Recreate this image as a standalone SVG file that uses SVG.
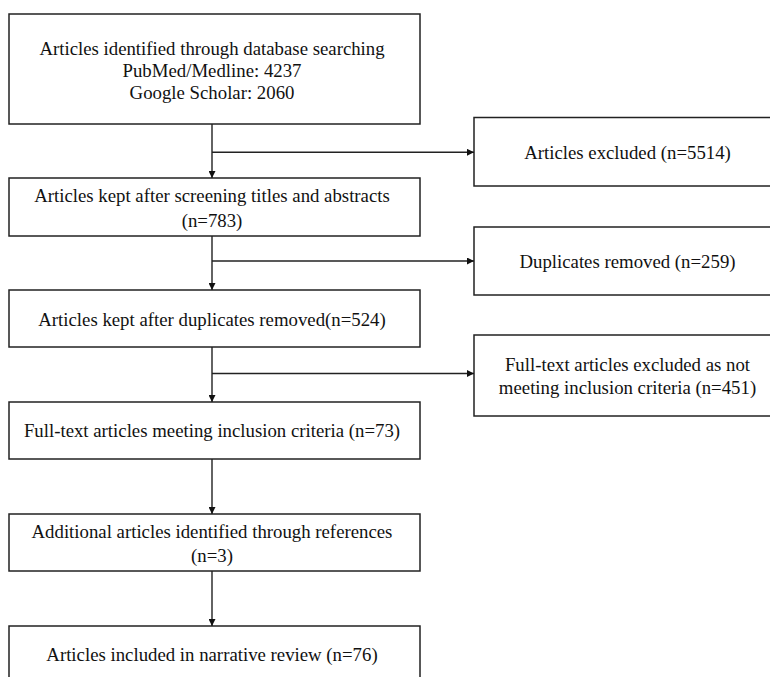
<svg xmlns="http://www.w3.org/2000/svg" width="770" height="677" viewBox="0 0 770 677">
<style>
.box{fill:#fff;stroke:#222;stroke-width:1.5}
.t{font-family:"Liberation Serif","Times New Roman",serif;font-size:18.8px;fill:#111;text-anchor:middle}
.c{fill:none;stroke:#222;stroke-width:1.4}
</style>
<defs>
<marker id="ah" viewBox="0 0 10 10" refX="10" refY="5" markerWidth="7" markerHeight="7" markerUnits="userSpaceOnUse" orient="auto">
<path d="M0,0 L10,5 L0,10 z" fill="#111"/>
</marker>
</defs>
<rect width="770" height="677" fill="#fff"/>
<g id="n1"><rect class="box" x="9" y="14" width="411" height="110"/>
<text class="t" x="212" y="55">Articles identified through database searching</text>
<text class="t" x="212" y="77">PubMed/Medline: 4237</text>
<text class="t" x="212" y="99">Google Scholar: 2060</text></g>
<g id="n2"><rect class="box" x="9" y="178" width="411" height="58"/>
<text class="t" x="212" y="202">Articles kept after screening titles and abstracts</text>
<text class="t" x="212" y="227">(n=783)</text></g>
<g id="n3"><rect class="box" x="9" y="290" width="411" height="57"/>
<text class="t" x="212" y="326">Articles kept after duplicates removed(n=524)</text></g>
<g id="n4"><rect class="box" x="9" y="402" width="411" height="57"/>
<text class="t" x="212" y="437">Full-text articles meeting inclusion criteria (n=73)</text></g>
<g id="n5"><rect class="box" x="9" y="514" width="411" height="57"/>
<text class="t" x="212" y="538">Additional articles identified through references</text>
<text class="t" x="212" y="562">(n=3)</text></g>
<g id="n6"><rect class="box" x="9" y="626" width="411" height="60"/>
<text class="t" x="212" y="661">Articles included in narrative review (n=76)</text></g>
<g id="r1"><rect class="box" x="474" y="117.5" width="310" height="68.5"/>
<text class="t" x="627.5" y="159">Articles excluded (n=5514)</text></g>
<g id="r2"><rect class="box" x="474" y="227" width="310" height="68"/>
<text class="t" x="627.5" y="268">Duplicates removed (n=259)</text></g>
<g id="r3"><rect class="box" x="474" y="335" width="310" height="81"/>
<text class="t" x="627.5" y="371">Full-text articles excluded as not</text>
<text class="t" x="627.5" y="394">meeting inclusion criteria (n=451)</text></g>
<g id="connectors">
<line class="c" x1="212" y1="124" x2="212" y2="178" marker-end="url(#ah)"/>
<line class="c" x1="212" y1="152.3" x2="474" y2="152.3" marker-end="url(#ah)"/>
<line class="c" x1="212" y1="236" x2="212" y2="290" marker-end="url(#ah)"/>
<line class="c" x1="212" y1="261" x2="474" y2="261" marker-end="url(#ah)"/>
<line class="c" x1="212" y1="347" x2="212" y2="402" marker-end="url(#ah)"/>
<line class="c" x1="212" y1="373.5" x2="474" y2="373.5" marker-end="url(#ah)"/>
<line class="c" x1="212" y1="459" x2="212" y2="514" marker-end="url(#ah)"/>
<line class="c" x1="212" y1="571" x2="212" y2="626" marker-end="url(#ah)"/>
</g>
</svg>
